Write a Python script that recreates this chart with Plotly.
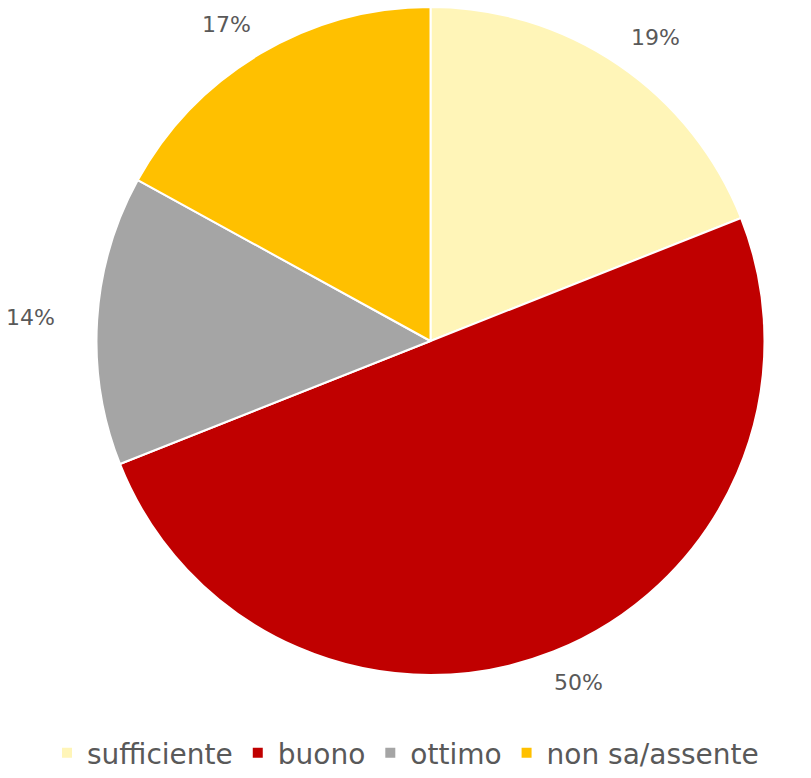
import math
import plotly.graph_objects as go

labels = ["sufficiente", "buono", "ottimo", "non sa/assente"]
values = [19, 50, 14, 17]
colors = ["#FFF5B8", "#C00000", "#A5A5A5", "#FFC000"]

W, H = 811, 778
cx, cy, r = 430.5, 341, 334

fig = go.Figure(go.Pie(
    labels=labels,
    values=values,
    sort=False,
    direction="clockwise",
    rotation=0,
    marker=dict(colors=colors, line=dict(color="white", width=2)),
    textinfo="none",
    domain=dict(x=[(cx - r) / W, (cx + r) / W],
                y=[(H - cy - r) / H, (H - cy + r) / H]),
    showlegend=True,
))

# percentage labels placed outside each slice, at the slice's mid angle
total = sum(values)
cum = 0
fx, fy = 1.2, 1.1
for v in values:
    mid = (cum + v / 2) / total * 2 * math.pi
    cum += v
    px = cx + fx * r * math.sin(mid)
    py = cy - fy * r * math.cos(mid)
    fig.add_annotation(
        x=px / W, y=1 - py / H, xref="paper", yref="paper",
        text=f"{round(v / total * 100)}%", showarrow=False,
        font=dict(family="DejaVu Sans", size=22, color="#595959"),
        xanchor="center", yanchor="middle",
    )

fig.update_layout(
    width=W, height=H,
    margin=dict(l=0, r=0, t=0, b=0),
    paper_bgcolor="white",
    plot_bgcolor="white",
    legend=dict(orientation="h", x=0.5, xanchor="center", y=0.0, yanchor="bottom",
                font=dict(family="DejaVu Sans", size=28, color="#595959"),
                itemwidth=30, tracegroupgap=0),
)

fig.write_html("out.html")
